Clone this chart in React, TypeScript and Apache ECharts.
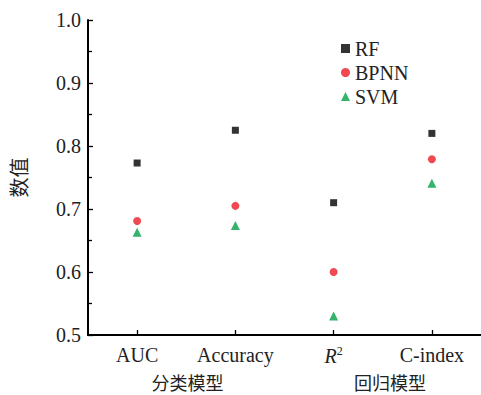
import React, { useEffect, useRef } from "react";
import * as echarts from "echarts";

const categories = ["AUC", "Accuracy", "R2", "C-index"];
const rfValues = [0.773, 0.825, 0.71, 0.82];
const bpnnValues = [0.681, 0.705, 0.6, 0.779];
const svmValues = [0.663, 0.674, 0.53, 0.741];
const groupLabels = ["分类模型", "回归模型"];
const yAxisName = "数值";

const FONT = "Liberation Serif";
const CJK = "Noto Sans CJK SC";

export default function App() {
  const ref = useRef<HTMLDivElement>(null);
  useEffect(() => {
    if (!ref.current) return;
    const chart = echarts.init(ref.current, null, { renderer: "svg" });
    chart.setOption({
      animation: false,
      backgroundColor: "#fff",
      textStyle: { fontFamily: FONT },
      grid: { left: 87, top: 20, right: 0, bottom: 60 },
      legend: {
        orient: "vertical",
        left: 336,
        top: 33,
        itemWidth: 9,
        itemHeight: 9,
        itemGap: 3,
        textStyle: { fontFamily: FONT, fontSize: 20, color: "#222", lineHeight: 21 },
        data: ["RF", "BPNN", "SVM"],
      },
      xAxis: {
        type: "category",
        data: categories,
        axisLine: { show: true, onZero: false, lineStyle: { color: "#000", width: 2 } },
        axisTick: { show: true, inside: true, alignWithLabel: true, length: 5, lineStyle: { color: "#000", width: 1.3 } },
        axisLabel: {
          interval: 0,
          color: "#222",
          fontSize: 20,
          fontFamily: FONT,
          margin: 10,
          formatter: (v: string) => (v === "R2" ? "{it|R}{sup|2}" : v),
          rich: {
            it: { fontStyle: "italic", fontSize: 20, fontFamily: FONT, color: "#222" },
            sup: { fontSize: 12, fontFamily: FONT, color: "#222", padding: [0, 0, 9, 0] },
          },
        },
        splitLine: { show: false },
      },
      yAxis: {
        type: "value",
        min: 0.5,
        max: 1.0,
        interval: 0.1,
        name: yAxisName,
        nameLocation: "middle",
        nameGap: 60,
        nameRotate: 90,
        nameTextStyle: { fontSize: 20, color: "#222", fontFamily: CJK },
        axisLine: { show: true, lineStyle: { color: "#000", width: 2 } },
        axisTick: { show: true, inside: true, length: 5, lineStyle: { color: "#000", width: 1.3 } },
        minorTick: { show: true, splitNumber: 2, length: 4, lineStyle: { color: "#000", width: 1.3 } },
        axisLabel: {
          color: "#222",
          fontSize: 20,
          fontFamily: FONT,
          margin: 7,
          formatter: (v: number) => v.toFixed(1),
        },
        splitLine: { show: false },
      },
      series: [
        { name: "RF", type: "scatter", data: rfValues, symbol: "rect", symbolSize: 7, itemStyle: { color: "#000" } },
        { name: "BPNN", type: "scatter", data: bpnnValues, symbol: "circle", symbolSize: 8, itemStyle: { color: "#ee1c25" } },
        { name: "SVM", type: "scatter", data: svmValues, symbol: "triangle", symbolSize: 9, itemStyle: { color: "#00a046" } },
      ],
      graphic: [
        { type: "text", x: 187.5, y: 382, style: { text: groupLabels[0], fontSize: 18, fontFamily: CJK, fill: "#222", align: "center", verticalAlign: "middle" } },
        { type: "text", x: 390, y: 382, style: { text: groupLabels[1], fontSize: 18, fontFamily: CJK, fill: "#222", align: "center", verticalAlign: "middle" } },
      ],
    });
    return () => chart.dispose();
  }, []);
  return <div ref={ref} style={{ width: 481, height: 395, position: "absolute", left: 0, top: 0 }} />;
}
